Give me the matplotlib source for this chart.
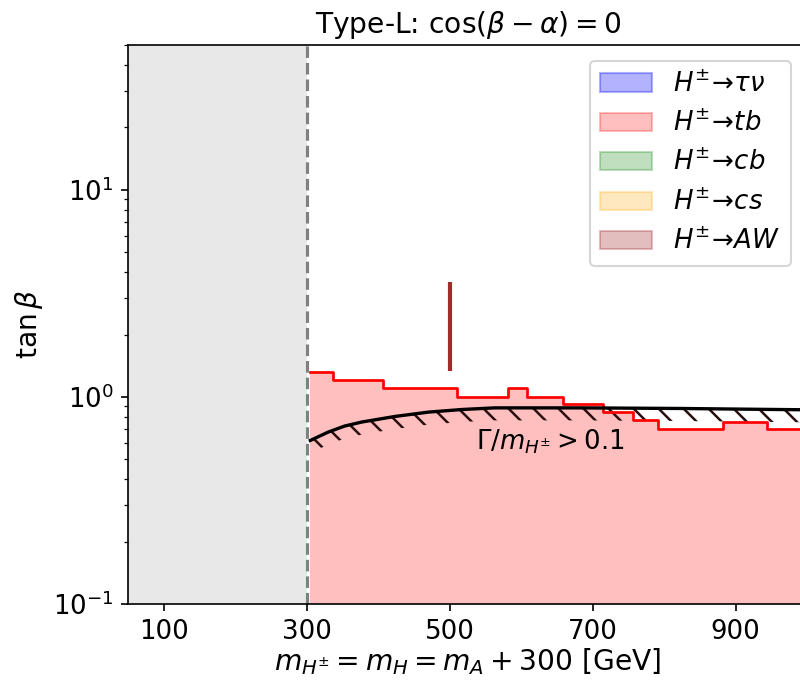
import numpy as np
import matplotlib
matplotlib.use('Agg')
import matplotlib.pyplot as plt
from matplotlib.patches import Patch

# limite inferior de masa (region excluida)
m_min = 300

# H+ -> tb: contorno escalonado
tb_edges = [305, 337, 407, 510, 581, 608, 658, 714, 756, 791, 882, 944, 1000]
tb_levels = [1.32, 1.20, 1.10, 1.00, 1.10, 1.00, 0.925, 0.845, 0.77, 0.70, 0.76, 0.70]

# H+ -> AW: linea en m = 500
aw_mass = 500
aw_range = [1.33, 3.6]

# Gamma/m > 0.1
width_mass = [305, 330, 353, 377, 423, 470, 517, 563, 682, 822, 1000]
width_tanb = [0.616, 0.676, 0.723, 0.756, 0.804, 0.844, 0.869, 0.885, 0.885, 0.879, 0.866]

legend_labels = [r'$H^{\pm}\!\to\!\tau\nu$', r'$H^{\pm}\!\to\!tb$', r'$H^{\pm}\!\to\!cb$',
                 r'$H^{\pm}\!\to\!cs$', r'$H^{\pm}\!\to\!AW$']
legend_colors = ['blue', 'red', 'green', 'orange', 'brown']
legend_alpha = [0.3, 0.25, 0.25, 0.25, 0.3]

plt.rcParams['hatch.linewidth'] = 1.2

fig = plt.figure(figsize=(800 / 150, 680 / 150), dpi=150)
ax = fig.add_axes([0.16, 0.1118, 0.849, 0.822])

ax.axvspan(50, m_min, color='#e8e8e8', lw=0)
ax.axvline(m_min, color='gray', ls='--', lw=1.5)

# tb
tb_y = tb_levels + [tb_levels[-1]]
ax.fill_between(tb_edges, 0.1, tb_y, step='post', color='red', alpha=0.25, lw=0)
ax.step(tb_edges, tb_y, where='post', color='red', lw=1.3)

# AW
ax.vlines(aw_mass, aw_range[0], aw_range[1], color='brown', lw=2)

# ancho total
wm = np.array(width_mass)
wt = np.array(width_tanb)
ax.fill_between(wm, wt * 0.87, wt, facecolor='none', edgecolor='#2a1010',
                hatch='\\\\', lw=0)
ax.plot(wm, wt, color='black', lw=1.6)
ax.text(537, 0.61, r'$\Gamma/m_{H^{\pm}}>0.1$', fontsize=12.5, va='center')

ax.set_yscale('log')
ax.set_xlim(50, 1000)
ax.set_ylim(0.1, 50)
ax.set_xticks([100, 300, 500, 700, 900])
ax.tick_params(labelsize=12.5)

ax.set_xlabel(r'$m_{H^{\pm}}=m_H=m_A+300$ [GeV]', fontsize=13.5, labelpad=1)
ax.set_ylabel(r'$\tan\beta$', fontsize=13.5)
ax.set_title(r'Type-L: $\cos(\beta-\alpha)=0$', fontsize=13.5)

handles = [Patch(facecolor=c, edgecolor=c, alpha=a) for c, a in zip(legend_colors, legend_alpha)]
ax.legend(handles, legend_labels, loc='upper right', fontsize=12.5,
          bbox_to_anchor=(0.995, 0.995), bbox_transform=ax.transAxes)

fig.savefig('out.png', dpi=150)
